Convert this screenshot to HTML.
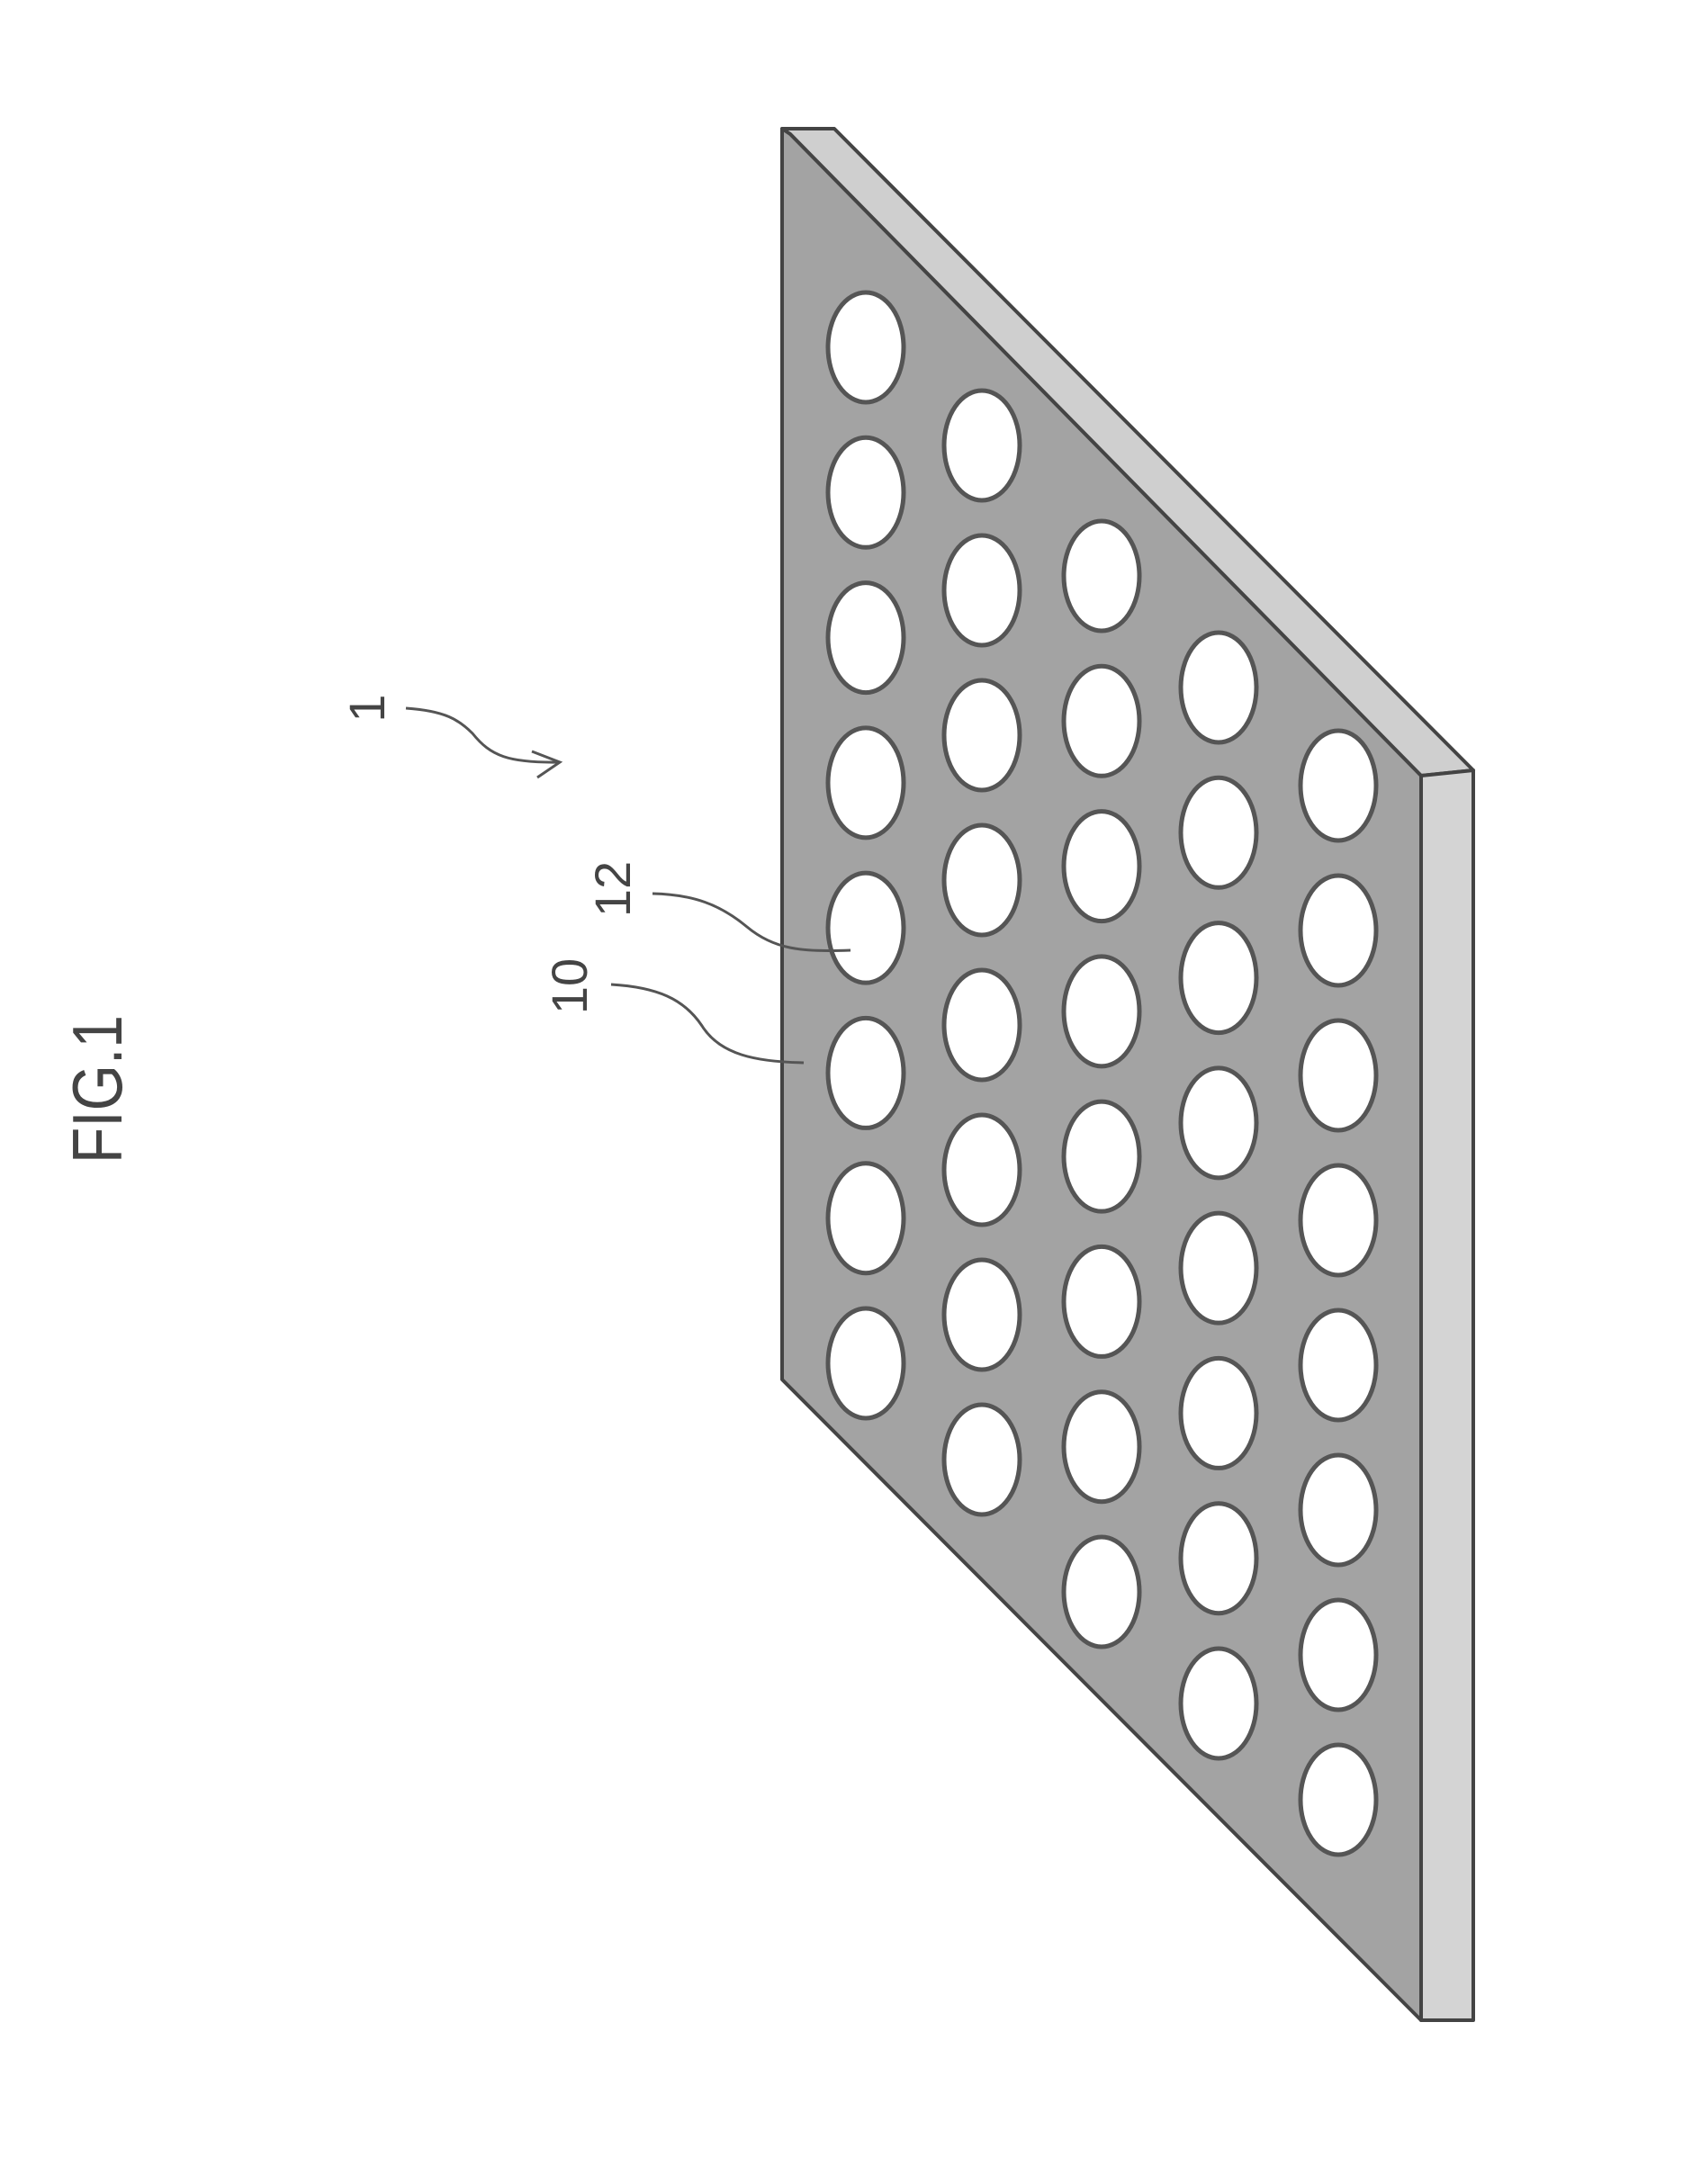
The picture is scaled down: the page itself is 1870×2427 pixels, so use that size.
<!DOCTYPE html>
<html><head><meta charset="utf-8"><style>html,body{margin:0;padding:0;background:#fff}svg{display:block}</style></head><body>
<svg width="1870" height="2427" viewBox="0 0 1870 2427" xmlns="http://www.w3.org/2000/svg">
<g stroke="#444" stroke-width="4" stroke-linejoin="round">
<polygon points="869,143 927,143 1637,856 1579,862 878,149" fill="#cfcfcf"/>
<polygon points="1579,862 1637,856 1637,2245 1579,2245" fill="#d4d4d4"/>
<polygon points="869,143 878,149 1579,862 1579,2245 869,1533" fill="#a3a3a3"/>
</g>
<g fill="#fff" stroke="#555" stroke-width="5" id="holes"></g>
<g fill="none" stroke="#555" stroke-width="3">
<path d="M451,787 C495,790 510,800 525,815 C545,840 565,848 622,847"/>
<path d="M591,835 L622,847 L597,864"/>
<path d="M725,993 C770,994 800,1005 830,1030 C860,1055 890,1058 945,1056"/>
<path d="M679,1094 C730,1097 760,1110 780,1140 C800,1172 840,1180 893,1181"/>
</g>
<g font-family="Liberation Sans, sans-serif" fill="#444">
<text x="0" y="0" font-size="78" textLength="165" lengthAdjust="spacingAndGlyphs" transform="translate(135,1293) rotate(-90)">FIG.1</text>
<text x="0" y="0" font-size="56" transform="translate(427,787) rotate(-90)" text-anchor="middle">1</text>
<text x="0" y="0" font-size="56" transform="translate(700,988) rotate(-90)" text-anchor="middle">12</text>
<text x="0" y="0" font-size="56" transform="translate(652,1096) rotate(-90)" text-anchor="middle">10</text>
</g>
</svg>
<script>
var g=document.getElementById('holes');
var cols=[[962,386,1515],[1091,495,1622],[1224,640,1769],[1354,764,1893],[1487,873,2000]];
cols.forEach(function(c){for(var i=0;i<8;i++){var y=c[1]+(c[2]-c[1])*i/7;var e=document.createElementNS('http://www.w3.org/2000/svg','ellipse');e.setAttribute('cx',c[0]);e.setAttribute('cy',y);e.setAttribute('rx',42);e.setAttribute('ry',61);g.appendChild(e);}});
</script>
</body></html>
